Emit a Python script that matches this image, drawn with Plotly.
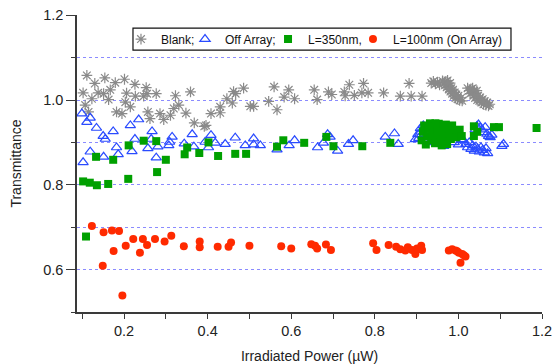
import plotly.graph_objects as go

# ---- data ----
blank_x = [0.111, 0.154, 0.179, 0.201, 0.226, 0.253, 0.130, 0.102, 0.123, 0.138, 0.151, 0.167, 0.163,
           0.206, 0.107, 0.115, 0.182, 0.195, 0.215, 0.203, 0.227, 0.247, 0.255, 0.277, 0.257, 0.262,
           0.286, 0.295, 0.311, 0.319, 0.331, 0.323, 0.359, 0.348, 0.368, 0.392,
           0.396, 0.408, 0.430, 0.430, 0.446, 0.459, 0.462, 0.467, 0.486, 0.502, 0.510, 0.546, 0.566,
           0.559, 0.583, 0.594, 0.608, 0.655, 0.662, 0.689,
           0.697, 0.727, 0.739, 0.729, 0.751, 0.773, 0.769, 0.784, 0.821, 0.861, 0.882, 0.887, 0.913,
           0.935, 0.940, 0.945, 0.950, 0.955,
           0.962, 0.966, 0.968, 0.970, 0.972, 0.975, 0.977, 0.979, 0.981, 0.983, 0.985, 0.987, 0.989,
           0.991, 0.993, 0.995, 0.998, 1.000, 1.003, 1.006, 1.009, 0.974, 0.980,
           1.022, 1.026, 1.028, 1.030, 1.033, 1.036, 1.038, 1.040, 1.042, 1.045, 1.047, 1.050, 1.052,
           1.055, 1.058, 1.060, 1.063, 1.066, 1.069, 1.072, 1.075, 1.034, 1.044]
blank_y = [1.058, 1.052, 1.041, 1.049, 1.037, 1.029, 1.039, 1.017, 1.003, 1.017, 1.015, 1.024, 1.001,
           1.016, 0.988, 0.972, 0.972, 0.968, 0.984, 0.995, 1.009, 1.009, 1.015, 1.015, 0.972, 0.956,
           0.968, 0.954, 0.964, 0.980, 0.988, 1.010, 1.019, 0.969, 0.946, 0.938,
           0.940, 0.968, 0.984, 0.970, 1.003, 0.993, 1.020, 1.015, 1.028, 0.985, 0.985, 0.997, 0.977,
           1.031, 1.007, 1.024, 1.003, 1.024, 1.001, 1.019,
           1.013, 1.019, 1.036, 1.010, 1.011, 1.039, 1.017, 1.017, 1.017, 1.009, 1.039, 1.009, 1.009,
           1.040, 1.044, 1.038, 1.042, 1.036,
           1.045, 1.040, 1.035, 1.044, 1.030, 1.038, 1.025, 1.033, 1.020, 1.028, 1.015, 1.024, 1.010,
           1.018, 1.005, 1.013, 1.002, 1.010, 0.999, 1.005, 0.998, 1.046, 1.040,
           1.028, 1.022, 1.015, 1.026, 1.018, 1.010, 1.022, 1.005, 1.015, 1.000, 1.010, 0.998, 1.006,
           0.994, 1.002, 0.990, 0.997, 0.988, 0.994, 0.986, 0.990, 1.028, 1.022]

off_x = [0.099, 0.111, 0.119, 0.134, 0.150, 0.155, 0.174, 0.182, 0.186, 0.119, 0.102, 0.151,
         0.215, 0.235, 0.226, 0.219, 0.267, 0.265, 0.257, 0.281, 0.277, 0.315, 0.309, 0.307,
         0.363, 0.344, 0.367, 0.394,
         0.408, 0.418, 0.402, 0.442, 0.466, 0.490, 0.510, 0.510, 0.526, 0.566, 0.595, 0.608,
         0.663, 0.677, 0.687,
         0.693, 0.711, 0.737, 0.748, 0.825, 0.847, 0.856, 0.897, 0.903, 0.909, 0.916,
         0.905, 0.910, 0.930, 0.960, 0.990, 1.000, 0.965,
         1.009, 1.012, 1.018, 1.022, 1.026, 1.030, 1.034, 1.038, 1.042, 1.046, 1.050, 1.054, 1.058,
         1.062, 1.066, 1.070, 1.048, 1.052, 1.056, 1.060, 1.064, 1.068, 1.072, 1.076, 1.080, 1.044,
         1.040, 1.108, 1.104]
off_y = [0.968, 0.948, 0.958, 0.934, 0.915, 0.908, 0.926, 0.888, 0.872, 0.878, 0.853, 0.866,
         0.940, 0.954, 0.908, 0.879, 0.926, 0.908, 0.886, 0.890, 0.864, 0.913, 0.901, 0.893,
         0.919, 0.897, 0.890, 0.901,
         0.917, 0.899, 0.888, 0.896, 0.911, 0.893, 0.909, 0.895, 0.893, 0.883, 0.893, 0.905,
         0.888, 0.899, 0.919,
         0.913, 0.880, 0.896, 0.905, 0.913, 0.921, 0.896, 0.907, 0.919, 0.933, 0.940,
         0.910, 0.925, 0.900, 0.905, 0.900, 0.895, 0.891,
         0.907, 0.905, 0.896, 0.888, 0.900, 0.884, 0.893, 0.880, 0.890, 0.885, 0.878, 0.888, 0.882,
         0.876, 0.886, 0.874, 0.942, 0.935, 0.930, 0.924, 0.936, 0.920, 0.915, 0.912, 0.918, 0.938,
         0.930, 0.896, 0.891]

l350_x = [0.102, 0.118, 0.135, 0.162, 0.210, 0.133, 0.174, 0.211, 0.247, 0.277, 0.279, 0.300,
          0.345, 0.351, 0.380, 0.402, 0.109,
          0.425, 0.466, 0.492, 0.566, 0.581, 0.631, 0.684, 0.701, 0.770, 0.837,
          0.912, 0.915, 0.918, 0.922, 0.925, 0.928, 0.932, 0.935, 0.938, 0.940, 0.944, 0.947, 0.950,
          0.953, 0.956, 0.958, 0.962, 0.965, 0.968, 0.970, 0.973, 0.976, 0.979, 0.982, 0.985, 0.988,
          0.991, 0.994, 0.998, 1.003, 1.008, 0.960, 0.945,
          1.037, 1.037, 1.045, 1.085, 1.097, 1.187]
l350_y = [0.808, 0.805, 0.799, 0.802, 0.814, 0.866, 0.859, 0.893, 0.904, 0.903, 0.830, 0.859,
          0.872, 0.888, 0.875, 0.900, 0.678,
          0.868, 0.873, 0.873, 0.890, 0.905, 0.899, 0.913, 0.891, 0.891, 0.899,
          0.905, 0.925, 0.940, 0.895, 0.915, 0.932, 0.945, 0.905, 0.922, 0.938, 0.898, 0.912, 0.930,
          0.944, 0.918, 0.902, 0.935, 0.925, 0.910, 0.942, 0.896, 0.920, 0.932, 0.908, 0.940, 0.918,
          0.928, 0.912, 0.922, 0.930, 0.915, 0.893, 0.945,
          0.938, 0.915, 0.925, 0.936, 0.936, 0.934]

l100_x = [0.123, 0.151, 0.171, 0.188, 0.175, 0.149, 0.196, 0.204, 0.222, 0.245, 0.238, 0.255,
          0.274, 0.297, 0.313, 0.343, 0.381, 0.381, 0.424, 0.450, 0.456, 0.500, 0.576, 0.600,
          0.648, 0.657, 0.662, 0.683, 0.695, 0.796, 0.804, 0.833, 0.851, 0.861, 0.873, 0.879,
          0.889, 0.897, 0.901, 0.911, 0.913, 0.977, 0.985, 0.993, 1.001, 1.009, 1.017, 1.005,
          0.997, 1.013]
l100_y = [0.703, 0.688, 0.692, 0.691, 0.644, 0.609, 0.539, 0.656, 0.672, 0.672, 0.640, 0.658,
          0.672, 0.666, 0.680, 0.655, 0.666, 0.653, 0.654, 0.654, 0.664, 0.656, 0.655, 0.650,
          0.660, 0.656, 0.650, 0.659, 0.646, 0.662, 0.646, 0.658, 0.654, 0.648, 0.645, 0.653,
          0.646, 0.637, 0.650, 0.656, 0.646, 0.645, 0.648, 0.645, 0.640, 0.637, 0.631, 0.616,
          0.643, 0.634]

series_names = ["Blank;", "Off Array;", "L=350nm,", "L=100nm (On Array)"]

font_family = "Liberation Sans, Arial, sans-serif"
axis_color = "#3a3a3a"
grid_color = "rgba(110,110,255,0.8)"

fig = go.Figure()
fig.add_trace(go.Scatter(x=blank_x, y=blank_y, mode="markers", name=series_names[0], legend="legend",
                         marker=dict(symbol="asterisk-open", size=9, color="#8a8a8a",
                                     line=dict(color="#8a8a8a", width=1.2))))
fig.add_trace(go.Scatter(x=off_x, y=off_y, mode="markers", name=series_names[1], legend="legend2",
                         marker=dict(symbol="triangle-up-open", size=9, color="#2a4bff",
                                     line=dict(color="#2a4bff", width=1.2))))
fig.add_trace(go.Scatter(x=l350_x, y=l350_y, mode="markers", name=series_names[2], legend="legend3",
                         marker=dict(symbol="square", size=8, color="#00a000",
                                     line=dict(width=0))))
fig.add_trace(go.Scatter(x=l100_x, y=l100_y, mode="markers", name=series_names[3], legend="legend4",
                         marker=dict(symbol="circle", size=8, color="#ff2a00",
                                     line=dict(width=0))))

leg_common = dict(orientation="v", y=0.919, yanchor="middle", xanchor="left",
                  bgcolor="rgba(0,0,0,0)", borderwidth=0,
                  font=dict(size=12, color="#111"))
fig.update_layout(
    width=555, height=364,
    margin=dict(l=77, r=13, t=15, b=52, autoexpand=False),
    paper_bgcolor="white", plot_bgcolor="white",
    font=dict(family=font_family, size=13, color="#222"),
    showlegend=True,
    legend=dict(x=0.0946, **leg_common),
    legend2=dict(x=0.2323, **leg_common),
    legend3=dict(x=0.4108, **leg_common),
    legend4=dict(x=0.5935, **leg_common),
    shapes=[dict(type="rect", xref="paper", yref="paper", x0=0.1204, x1=0.9333,
                 y0=0.882, y1=0.956, fillcolor="white", line=dict(color="#111", width=1.2),
                 layer="above")],
)
fig.update_xaxes(
    range=[0.0874, 1.2], showline=True, linecolor=axis_color, linewidth=1.5,
    ticks="outside", ticklen=5, tickwidth=1, tickcolor=axis_color,
    tick0=0, dtick=0.2, tickformat=".1f", automargin=False,
    minor=dict(dtick=0.1, tick0=0, ticks="outside", ticklen=5, tickcolor=axis_color, showgrid=False),
    showgrid=False, zeroline=False,
    title=dict(text="Irradiated Power (µW)", font=dict(size=14), standoff=14),
    tickfont=dict(size=14.5),
)
fig.update_yaxes(
    range=[0.5, 1.2005], showline=True, linecolor=axis_color, linewidth=1.5,
    ticks="outside", ticklen=9, tickwidth=1, tickcolor=axis_color,
    tick0=0, dtick=0.2, tickformat=".1f", automargin=False,
    minor=dict(dtick=0.1, tick0=0, ticks="outside", ticklen=4, tickcolor=axis_color,
               showgrid=True, gridcolor=grid_color, griddash="dot", gridwidth=1),
    showgrid=True, gridcolor=grid_color, griddash="dot", gridwidth=1,
    zeroline=False,
    title=dict(text="Transmittance", font=dict(size=14), standoff=18),
    tickfont=dict(size=14.5),
)

fig.write_html("out.html", config={"displayModeBar": False},
               post_script="document.body.style.margin='0px';")
